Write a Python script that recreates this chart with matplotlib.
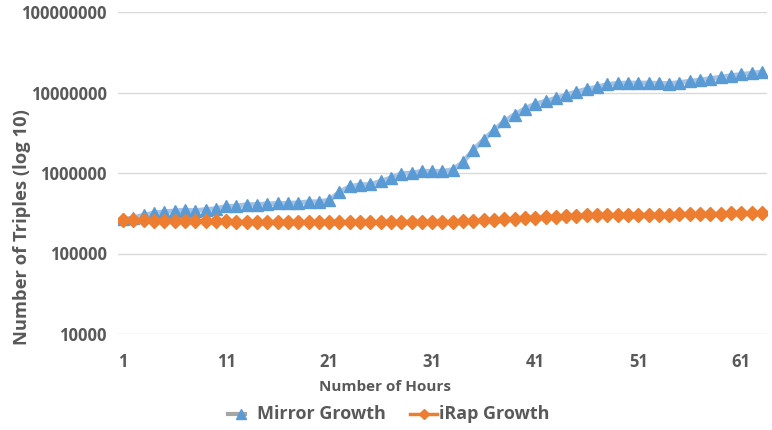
import matplotlib
matplotlib.use("Agg")
import matplotlib.pyplot as plt
from matplotlib.lines import Line2D
from matplotlib.ticker import FixedLocator, FixedFormatter, NullLocator

hours = list(range(1, 64))
mirror_growth = [265000, 278000, 300000, 318000, 330000, 338000, 345000, 340000, 352000, 360000,
                 385000, 388000, 405000, 406000, 415000, 418000, 420000, 426000, 438000, 440000,
                 460000, 580000, 680000, 715000, 720000, 790000, 870000, 980000, 1000000, 1050000,
                 1050000, 1050000, 1100000, 1370000, 1940000, 2600000, 3400000, 4400000, 5300000, 6300000,
                 7200000, 7800000, 8500000, 9300000, 10200000, 11000000, 11700000, 12600000, 13000000, 13100000,
                 13100000, 13100000, 13000000, 12900000, 13300000, 13800000, 14300000, 14900000, 15500000, 16200000,
                 16800000, 17300000, 18000000]
irap_growth = [262000, 260000, 258000, 257000, 255000, 254000, 253000, 252000, 251000, 250000,
               250000, 249000, 249000, 248000, 248000, 247000, 247000, 246000, 246000, 245000,
               245000, 245000, 245000, 245000, 245000, 245000, 245000, 246000, 246000, 246000,
               247000, 248000, 249000, 252000, 255000, 258000, 262000, 266000, 270000, 274000,
               278000, 282000, 286000, 290000, 294000, 297000, 300000, 302000, 304000, 305000,
               305000, 305000, 305000, 305000, 306000, 308000, 310000, 312000, 313000, 314000,
               316000, 318000, 320000]
x_ticks = [1, 11, 21, 31, 41, 51, 61]
y_ticks = [10000, 100000, 1000000, 10000000, 100000000]
y_tick_labels = ["10000", "100000", "1000000", "10000000", "100000000"]
series_names = ["Mirror Growth", "iRap Growth"]

plt.rcParams['font.family'] = ['Open Sans', 'DejaVu Sans']
grey = '#595959'
blue = '#5B9BD5'
orange = '#ED7D31'

W, H = 772, 430
fig = plt.figure(figsize=(W/100, H/100), dpi=100)
ax = fig.add_axes([118/W, 1 - 334/H, (767-118)/W, (334-12)/H])

ax.plot(hours, mirror_growth, color='#A8C3E2', lw=3.5, marker='^', ms=8.5,
        mfc=blue, mec=blue, zorder=3)
ax.plot(hours, irap_growth, color=orange, lw=2.5, marker='D', ms=7.2,
        mfc=orange, mec=orange, zorder=4)

ax.set_yscale('log')
ax.set_ylim(1e4, 1e8)
ax.set_xlim(0.5, 63.5)
ax.yaxis.set_major_locator(FixedLocator(y_ticks))
ax.yaxis.set_major_formatter(FixedFormatter(y_tick_labels))
ax.yaxis.set_minor_locator(NullLocator())
ax.set_xticks(x_ticks)
ax.set_xticklabels([str(v) for v in x_ticks])
ax.grid(axis='y', color='#D9D9D9', lw=1)
ax.set_axisbelow(True)
for s in ['top', 'right', 'left', 'bottom']:
    ax.spines[s].set_visible(False)
ax.tick_params(axis='both', length=0, labelsize=12, labelcolor=grey)
ax.tick_params(axis='x', pad=14)
ax.tick_params(axis='y', pad=8)
for lab in ax.get_xticklabels() + ax.get_yticklabels():
    lab.set_fontweight('bold')

fig.text(22/W, 1 - 227/H, 'Number of Triples (log 10)', rotation=90, ha='center', va='center',
         fontsize=13.2, fontweight='bold', color=grey)
fig.text(385/W, 1 - 387/H, 'Number of Hours', ha='center', va='center',
         fontsize=11, fontweight='bold', color=grey)

# legend (manual, Excel style)
ly = 1 - 414/H
fig.add_artist(Line2D([228/W, 245/W], [ly, ly], color='#A5A5A5', lw=3, transform=fig.transFigure))
fig.add_artist(Line2D([241/W], [ly], marker='^', ms=7, color=blue, transform=fig.transFigure))
fig.text(257/W, ly, series_names[0], ha='left', va='center', fontsize=13, fontweight='bold', color=grey)
fig.add_artist(Line2D([410/W, 437/W], [ly, ly], color=orange, lw=2.5, transform=fig.transFigure))
fig.add_artist(Line2D([424/W], [ly], marker='D', ms=5.5, color=orange, transform=fig.transFigure))
fig.text(439/W, ly, series_names[1], ha='left', va='center', fontsize=13, fontweight='bold', color=grey)

fig.savefig('out.png', dpi=100)
